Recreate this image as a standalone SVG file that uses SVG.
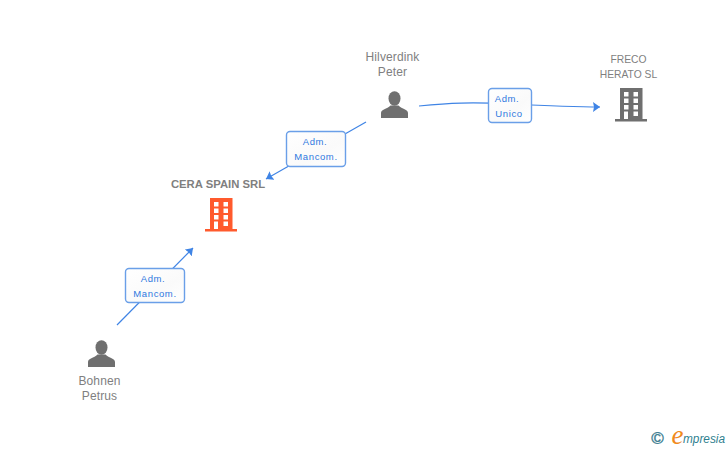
<svg xmlns="http://www.w3.org/2000/svg" width="728" height="450" viewBox="0 0 728 450">
<style>
text{font-family:"Liberation Sans",Arial,sans-serif;text-anchor:middle}
.n{font-size:12px;fill:#7f7f7f;letter-spacing:.12px}
.s{font-size:10.3px;fill:#7f7f7f}
.b{font-size:11.3px;font-weight:bold;fill:#7f7f7f}
.l{font-size:9.5px;fill:#2f78e0;letter-spacing:.6px}
.box{fill:url(#g);stroke:#6a9fe8;stroke-width:1.4}
.c{fill:none;stroke:#3f84e5;stroke-width:1.2}
.ph{fill:#6f6f6f}
</style>
<defs>
<linearGradient id="g" x1="0" y1="0" x2="1" y2="1"><stop offset="0" stop-color="#fff"/><stop offset=".6" stop-color="#fafafa"/><stop offset="1" stop-color="#fff"/></linearGradient>
<marker id="a" markerUnits="userSpaceOnUse" markerWidth="12" markerHeight="12" refX="7" refY="5" orient="auto"><path d="M0 0L7 5L0 10L1 5Z" fill="#3f84e5"/></marker>
<g id="person"><ellipse cx="13.500" cy="7.500" rx="6" ry="7.300"/><path d="M0 27V22C0 18.500 6 18 9.500 14.500H17.500C21 18 27 18.500 27 22V27Z"/></g>
<path id="bld" fill-rule="evenodd" d="M5 0H27.500V31H32V33.500H0V31H5ZM9 4V8.500H13.500V4ZM18.500 4V8.500H23V4ZM9 10.500V15H13.500V10.500ZM18.500 10.500V15H23V10.500ZM9 17V21.500H13.500V17ZM18.500 17V21.500H23V17ZM9 23.500V31H13V23.500ZM18.500 23.500V28H23V23.500Z"/>
</defs>
<rect width="728" height="450" fill="#fff"/>
<g id="connectors">
<path class="c" d="M366 122L266 179" marker-end="url(#a)"/>
<path class="c" d="M117 325L193 248" marker-end="url(#a)"/>
<path class="c" d="M419 106C450 103 470 102 510 104S570 107 600 107" marker-end="url(#a)"/>
</g>
<g id="hilverdink"><text class="n" x="392.500" y="61">Hilverdink</text><text class="n" x="392.500" y="76">Peter</text><use href="#person" x="381" y="91" class="ph"/></g>
<g id="freco"><text class="s" x="628.500" y="63">FRECO</text><text class="s" x="628.500" y="78">HERATO SL</text><use href="#bld" x="615" y="88" fill="#6f6f6f"/></g>
<g id="cera"><text class="b" x="218" y="188">CERA SPAIN SRL</text><use href="#bld" x="205" y="198" fill="#ff5a2d"/></g>
<g id="bohnen"><text class="n" x="99.500" y="385">Bohnen</text><text class="n" x="99.500" y="400">Petrus</text><use href="#person" x="88" y="340" class="ph"/></g>
<g id="label-1"><rect class="box" x="286.500" y="131.500" width="59" height="35" rx="3.500"/><text class="l" x="315" y="145">Adm.</text><text class="l" x="316" y="160">Mancom.</text></g>
<g id="label-2"><rect class="box" x="488.500" y="88.500" width="43" height="34" rx="3.500"/><text class="l" x="507" y="102">Adm.</text><text class="l" x="509" y="117">Unico</text></g>
<g id="label-3"><rect class="box" x="125.500" y="268.500" width="59" height="34" rx="3.500"/><text class="l" x="153" y="282">Adm.</text><text class="l" x="155" y="297">Mancom.</text></g>
<g id="logo"><text x="657.500" y="444" style="font-size:17px;fill:#3f7f93;stroke:#3f7f93;stroke-width:.4">©</text><text x="677.500" y="444" style="font-size:27px;font-style:italic;fill:#f08a1d;font-family:'Liberation Serif',serif">e</text><text x="683" y="443" style="font-size:12.500px;font-style:italic;fill:#2f7f8f;text-anchor:start" textLength="42" lengthAdjust="spacingAndGlyphs">mpresia</text></g>
</svg>
